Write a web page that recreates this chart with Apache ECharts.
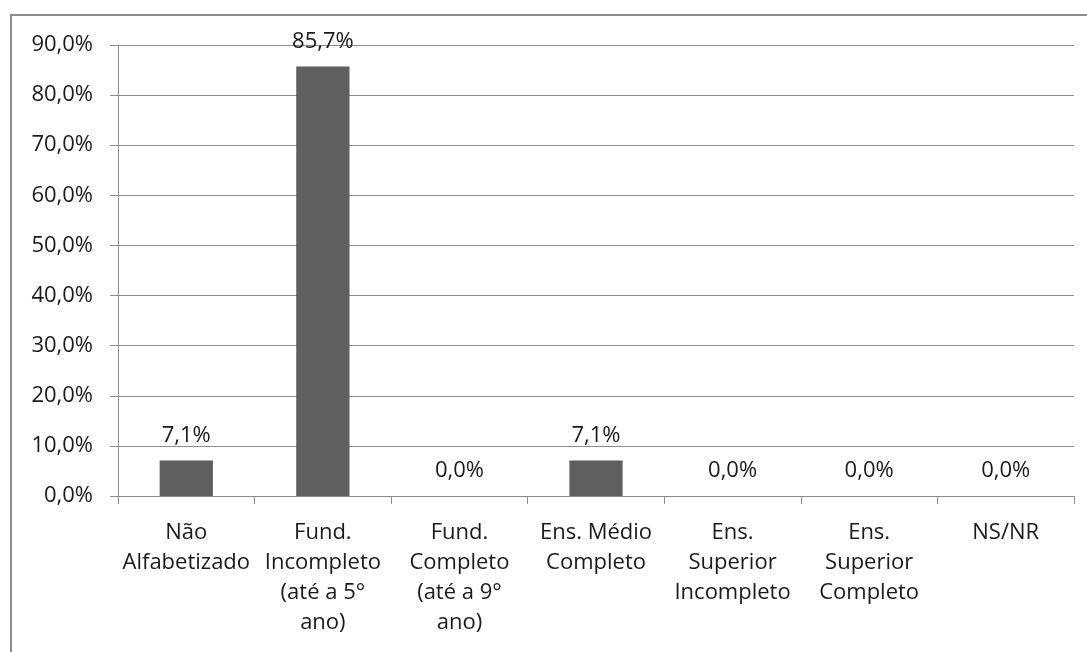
<!DOCTYPE html>
<html><head><meta charset="utf-8">
<script src="https://cdn.jsdelivr.net/npm/echarts@6/dist/echarts.min.js"></script>
<style>html,body{margin:0;padding:0;background:#fff}#c{width:1087px;height:652px}</style>
</head><body><div id="c"></div>
<script>
const categories = ["Não\nAlfabetizado", "Fund.\nIncompleto\n(até a 5°\nano)", "Fund.\nCompleto\n(até a 9°\nano)", "Ens. Médio\nCompleto", "Ens.\nSuperior\nIncompleto", "Ens.\nSuperior\nCompleto", "NS/NR"];
const values = [7.1, 85.7, 0.0, 7.1, 0.0, 0.0, 0.0];
const yMin = 0, yMax = 90, yStep = 10;
const fmt = v => Number(v).toFixed(1).replace('.', ',') + '%';
const FONT = '"Open Sans"';
const chart = echarts.init(document.getElementById('c'), null, {renderer: 'canvas'});
chart.setOption({
  animation: false,
  backgroundColor: '#fff',
  graphic: [{type: 'rect', shape: {x: 11, y: 15, width: 1200, height: 800}, style: {fill: 'none', stroke: '#8c8c8c', lineWidth: 2}, silent: true}],
  grid: {left: 118, right: 13, top: 45, bottom: 156},
  xAxis: {
    type: 'category', data: categories,
    axisLine: {lineStyle: {color: '#8c8c8c', width: 1}},
    axisTick: {show: true, length: 8, alignWithLabel: false, lineStyle: {color: '#8c8c8c'}},
    axisLabel: {color: '#1a1a1a', fontFamily: FONT, fontSize: 22, lineHeight: 30, margin: 22, interval: 0}
  },
  yAxis: {
    type: 'value', min: yMin, max: yMax, interval: yStep,
    axisLine: {show: true, lineStyle: {color: '#8c8c8c'}},
    axisTick: {show: true, length: 8, lineStyle: {color: '#8c8c8c'}},
    splitLine: {lineStyle: {color: '#8c8c8c', width: 1}},
    axisLabel: {formatter: fmt, color: '#1a1a1a', fontFamily: FONT, fontSize: 22, margin: 25}
  },
  series: [{
    type: 'bar', data: values, barWidth: '39%',
    itemStyle: {color: '#5f5f5f'},
    label: {show: true, position: 'top', distance: 14, formatter: p => fmt(p.value), color: '#1a1a1a', fontFamily: FONT, fontSize: 22}
  }]
});
</script></body></html>
